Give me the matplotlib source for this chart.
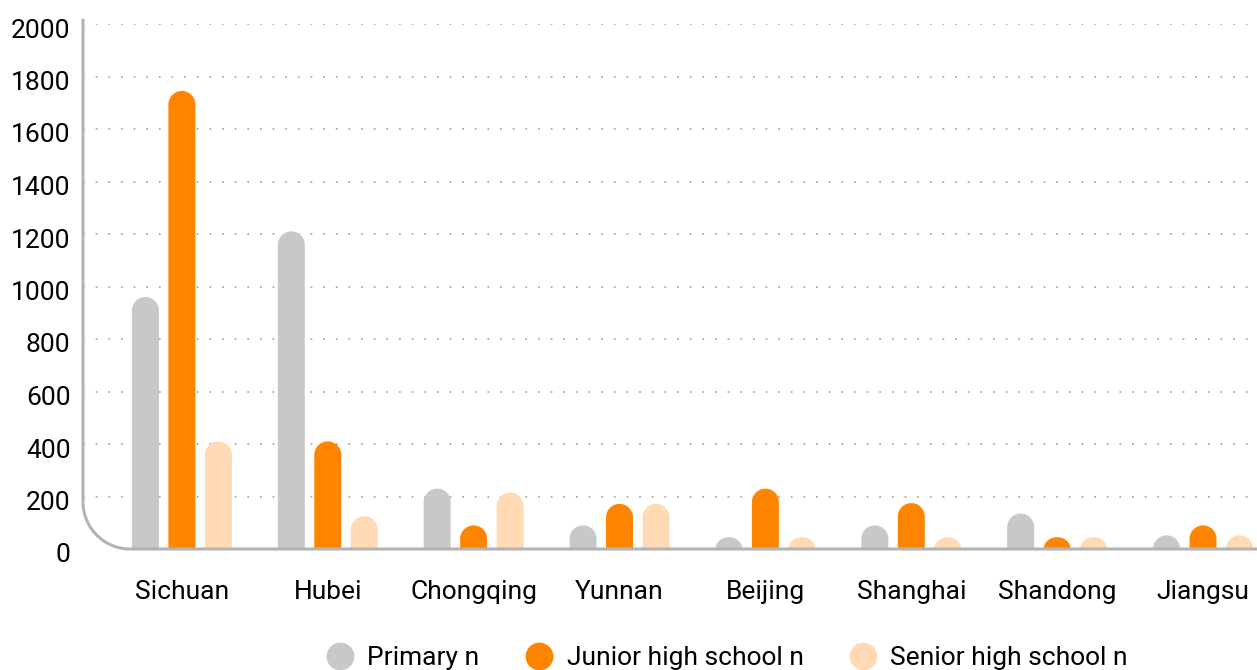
import numpy as np
import matplotlib.pyplot as plt
from matplotlib.lines import Line2D
from matplotlib.patches import Polygon, PathPatch
from matplotlib.path import Path
import matplotlib.transforms as mtransforms

plt.rcParams['font.family'] = ['Roboto', 'DejaVu Sans']

provinces = ["Sichuan", "Hubei", "Chongqing", "Yunnan", "Beijing",
             "Shanghai", "Shandong", "Jiangsu"]
primary = [960, 1210, 230, 90, 45, 90, 135, 52]
junior = [1745, 410, 90, 172, 230, 175, 45, 90]
senior = [410, 125, 215, 172, 45, 45, 45, 52]
series_names = ["Primary n", "Junior high school n", "Senior high school n"]
colors = ["#c8c8c8", "#ff8500", "#ffdab5"]
yticks = [0, 200, 400, 600, 800, 1000, 1200, 1400, 1600, 1800, 2000]

W, H = 1257, 670
fig = plt.figure(figsize=(W / 100, H / 100), dpi=100)
ax = fig.add_axes([83 / W, 121 / H, 1 - 83 / W, 525 / H])

x = np.arange(len(provinces))
bw = 0.185
step = 0.25
xlim = (-0.678, 7.37)
ylim = (0, 2000)
ax.set_xlim(*xlim)
ax.set_ylim(*ylim)

# pixels per data unit, used to keep the caps round
ax_w = W - 83
ax_h = 525
px_x = ax_w / (xlim[1] - xlim[0])
px_y = ax_h / (ylim[1] - ylim[0])

for k, (vals, c) in enumerate(zip([primary, junior, senior], colors)):
    bars = ax.bar(x + (k - 1) * step, vals, width=bw, color=c)
    for b in bars:
        b.set_visible(False)
        x0 = b.get_x()
        w = b.get_width()
        h = b.get_height()
        rx = w / 2
        ry = rx * px_x / px_y
        ry = min(ry, h)
        cx = x0 + rx
        t = np.linspace(0, np.pi, 40)
        arc = np.column_stack([cx + rx * np.cos(t), h - ry + ry * np.sin(t)])
        pts = np.vstack([[x0 + w, 0], arc, [x0, 0]])
        ax.add_patch(Polygon(pts, closed=True, facecolor=c, edgecolor='none', zorder=2))

# grid
for yv in yticks[1:]:
    ax.axhline(yv, color="#aaaaaa", lw=1.3, ls=(0, (1, 6)), zorder=1)

for s in ax.spines.values():
    s.set_visible(False)

# baseline and curved left axis
r_px = 47
rxa = r_px / ax_w
rya = r_px / ax_h
verts = [(0, 1.01), (0, rya), (0, rya * 0.45), (rxa * 0.45, 0), (rxa, 0), (1, 0)]
codes = [Path.MOVETO, Path.LINETO, Path.CURVE4, Path.CURVE4, Path.CURVE4, Path.LINETO]
ax.add_patch(PathPatch(Path(verts, codes), transform=ax.transAxes, fill=False,
                       edgecolor="#b3b3b3", lw=2.2, clip_on=False, zorder=3))

ax.set_yticks(yticks)
ax.set_yticklabels([str(v) for v in yticks])
ax.set_xticks(x)
ax.set_xticklabels(provinces)
ax.tick_params(axis='y', length=0, pad=9, labelsize=19)
ax.tick_params(axis='x', length=0, pad=22, labelsize=19)
for lab in ax.get_yticklabels():
    lab.set_transform(lab.get_transform() + mtransforms.ScaledTranslation(0, -4 / 100, fig.dpi_scale_trans))

handles = [Line2D([], [], marker='o', ls='none', markersize=20, markerfacecolor=c,
                  markeredgecolor='none') for c in colors]
fig.legend(handles, series_names, loc='center', bbox_to_anchor=(0.578, 0.018),
           ncol=3, frameon=False, fontsize=19, handletextpad=0.5,
           columnspacing=1.7, handlelength=1.1)

fig.savefig("out.png", dpi=100)
